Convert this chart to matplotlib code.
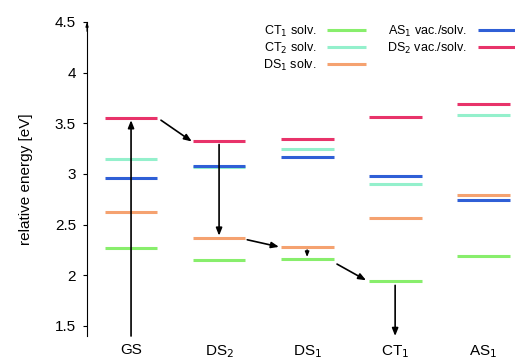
import matplotlib
matplotlib.use("Agg")
import matplotlib.pyplot as plt

plt.rcParams['font.family'] = ['Liberation Sans', 'DejaVu Sans']

states = ["GS", "DS$_2$", "DS$_1$", "CT$_1$", "AS$_1$"]
ct1_solv = [2.27, 2.15, 2.16, 1.94, 2.19]
ct2_solv = [3.15, 3.07, 3.25, 2.90, 3.58]
ds1_solv = [2.62, 2.37, 2.28, 2.56, 2.79]
as1_vac = [2.96, 3.08, 3.17, 2.98, 2.74]
ds2_vac = [3.55, 3.32, 3.34, 3.56, 3.69]

series = [
    ("CT$_1$ solv.", ct1_solv, "#88ee6c"),
    ("CT$_2$ solv.", ct2_solv, "#94f0cc"),
    ("DS$_1$ solv.", ds1_solv, "#f5a270"),
    ("AS$_1$ vac./solv.", as1_vac, "#2f5fd6"),
    ("DS$_2$ vac./solv.", ds2_vac, "#e8336a"),
]

fig = plt.figure(figsize=(5.15, 3.59), dpi=100)
ax = fig.add_axes([0.169, 0.064, 0.829, 0.875])

hw = 0.3
handles = []
for label, vals, col in series:
    for i, v in enumerate(vals):
        h, = ax.plot([i - hw, i + hw], [v, v], color=col, lw=2.2, solid_capstyle='butt')
    h.set_label(label)
    handles.append(h)

arrow_kw = dict(arrowstyle='-|>,head_width=0.18,head_length=0.45', color='black', lw=1.2,
                shrinkA=0, shrinkB=0)
# GS excitation
ax.annotate("", xy=(0, ds2_vac[0] - 0.02), xytext=(0, 1.4), arrowprops=arrow_kw)
# GS DS2 -> DS2 DS2
ax.annotate("", xy=(1 - 0.31, ds2_vac[1] - 0.0), xytext=(0 + 0.34, ds2_vac[0] - 0.02), arrowprops=arrow_kw)
# DS2 vertical down to DS1 level
ax.annotate("", xy=(1, ds1_solv[1] + 0.02), xytext=(1, ds2_vac[1] - 0.03), arrowprops=arrow_kw)
# DS2 orange -> DS1 orange
ax.annotate("", xy=(2 - 0.32, ds1_solv[2] - 0.0), xytext=(1 + 0.32, ds1_solv[1] - 0.02), arrowprops=arrow_kw)
# DS1 small down
ax.annotate("", xy=(2, ct1_solv[2] + 0.02), xytext=(2, ds1_solv[2] - 0.03),
            arrowprops=dict(arrowstyle='-|>,head_width=0.12,head_length=0.3', color='black', lw=1.0,
                            shrinkA=0, shrinkB=0))
# DS1 green -> CT1 green
ax.annotate("", xy=(3 - 0.33, ct1_solv[3] + 0.01), xytext=(2 + 0.34, ct1_solv[2] - 0.05), arrowprops=arrow_kw)
# CT1 down
ax.annotate("", xy=(3, 1.4), xytext=(3, ct1_solv[3] - 0.04), arrowprops=arrow_kw)

ax.set_xlim(-0.5, 4.35)
ax.set_ylim(1.4, 4.5)
ax.set_yticks([1.5, 2, 2.5, 3, 3.5, 4, 4.5])
ax.set_yticklabels(["1.5", "2", "2.5", "3", "3.5", "4", "4.5"])
ax.set_xticks(range(len(states)))
ax.set_xticklabels(states)
ax.tick_params(axis='x', length=0, pad=5, labelsize=11)
ax.tick_params(axis='y', direction='out', length=3, width=0.8, labelsize=11, pad=5)
for s in ['top', 'right', 'bottom']:
    ax.spines[s].set_visible(False)
ax.spines['left'].set_linewidth(0.8)
ax.annotate("", xy=(0, 1.0), xytext=(0, 0.97), xycoords='axes fraction',
            arrowprops=dict(arrowstyle='-|>,head_width=0.08,head_length=0.25', color='black', lw=0.8,
                            shrinkA=0, shrinkB=0))
ax.set_ylabel("relative energy [eV]", fontsize=11, labelpad=16)

leg = ax.legend(handles=handles, ncol=2, markerfirst=False, frameon=False, fontsize=9,
                loc='upper right', bbox_to_anchor=(1.018, 1.01), handlelength=3.1,
                columnspacing=1.75, labelspacing=0.15, handletextpad=0.85, borderaxespad=0)
fig.savefig("out.png", dpi=100)
